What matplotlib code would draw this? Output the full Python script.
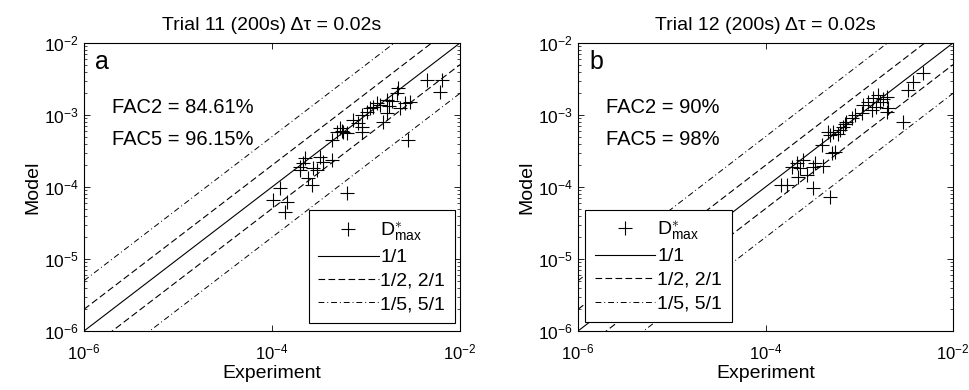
import matplotlib
matplotlib.use("Agg")
import matplotlib.pyplot as plt
import numpy as np

plt.rcParams['font.family'] = ['Liberation Sans', 'DejaVu Sans']
plt.rcParams['mathtext.fontset'] = 'custom'
plt.rcParams['mathtext.rm'] = 'Liberation Sans'
plt.rcParams['mathtext.it'] = 'Liberation Sans'
plt.rcParams['mathtext.bf'] = 'Liberation Sans:bold'

# Trial 11: experiment vs model D*max
exp_11 = [4.43e-3, 2.21e-3, 2.12e-3, 1.66e-3, 1.30e-3, 1.20e-3, 1.41e-3, 2.94e-3,
          2.60e-3, 2.30e-3, 1.66e-3, 1.53e-3, 1.02e-3, 9.0e-4, 7.33e-4, 8.28e-4,
          9.0e-4, 9.0e-4, 5.28e-4, 5.74e-4, 4.87e-4, 6.24e-4, 4.32e-4, 2.82e-3,
          2.24e-4, 2.15e-4, 1.99e-4, 3.25e-4, 3.52e-4, 4.32e-4, 2.75e-4, 2.99e-4,
          1.99e-4, 2.43e-4, 2.64e-4, 1.22e-4, 1.03e-4, 1.43e-4, 1.37e-4, 6.24e-4,
          6.38e-3, 6.12e-3, 1.90e-3, 1.10e-3, 5.5e-4, 1.75e-3]
mod_11 = [3.06e-3, 2.35e-3, 2.0e-3, 1.61e-3, 1.46e-3, 1.30e-3, 1.38e-3, 1.53e-3,
          1.46e-3, 1.24e-3, 1.06e-3, 8.1e-4, 1.11e-3, 1.0e-3, 8.5e-4, 7.7e-4,
          6.9e-4, 5.86e-4, 6.5e-4, 5.86e-4, 5.86e-4, 5.57e-4, 4.5e-4, 4.5e-4,
          2.51e-4, 2.13e-4, 1.91e-4, 2.64e-4, 2.24e-4, 2.37e-4, 1.82e-4, 1.72e-4,
          1.72e-4, 1.32e-4, 1.07e-4, 9.6e-5, 6.6e-5, 6.25e-5, 4.5e-5, 8.2e-5,
          3.06e-3, 2.1e-3, 1.55e-3, 1.25e-3, 6.0e-4, 1.35e-3]

# Trial 12
exp_12 = [3.78e-3, 3.33e-3, 1.96e-3, 1.60e-3, 1.66e-3, 1.41e-3, 1.25e-3, 1.10e-3,
          2.04e-3, 1.96e-3, 1.36e-3, 1.06e-3, 9.0e-4, 8.3e-4, 7.3e-4, 6.76e-4,
          6.24e-4, 5.28e-4, 4.68e-4, 4.87e-4, 3.97e-4, 5.08e-4, 5.51e-4, 2.95e-3,
          2.53e-4, 2.15e-4, 1.90e-4, 2.34e-4, 3.24e-4, 3.37e-4, 4.14e-4, 2.75e-4,
          2.24e-4, 1.46e-4, 1.68e-4, 3.24e-4, 4.87e-4, 4.82e-3, 1.80e-3, 1.50e-3,
          7.0e-4, 5.9e-4]
mod_12 = [2.9e-3, 2.22e-3, 1.79e-3, 1.90e-3, 1.53e-3, 1.71e-3, 1.53e-3, 1.38e-3,
          1.24e-3, 1.11e-3, 1.17e-3, 1.06e-3, 1.0e-3, 9.0e-4, 8.07e-4, 6.9e-4,
          6.2e-4, 5.86e-4, 5.86e-4, 5.27e-4, 3.83e-4, 2.94e-4, 3.09e-4, 8.07e-4,
          2.37e-4, 2.13e-4, 1.91e-4, 1.82e-4, 1.91e-4, 2.13e-4, 1.96e-4, 1.47e-4,
          1.39e-4, 1.07e-4, 1.07e-4, 9.6e-5, 7.3e-5, 3.83e-3, 1.65e-3, 1.30e-3,
          7.5e-4, 5.5e-4]

titles = ["Trial 11 (200s) \u0394\u03c4 = 0.02s", "Trial 12 (200s) \u0394\u03c4 = 0.02s"]
panel_labels = ["a", "b"]
fac2 = ["FAC2 = 84.61%", "FAC2 = 90%"]
fac5 = ["FAC5 = 96.15%", "FAC5 = 98%"]
ref_line = [1e-6, 1e-2]

fig = plt.figure(figsize=(9.69, 3.9), dpi=100)
ax_pos = [[0.0867, 0.1513, 0.388, 0.7385], [0.5965, 0.1513, 0.387, 0.7385]]
datasets = [(exp_11, mod_11), (exp_12, mod_12)]
legend_loc = [("lower right", (0.987, 0.028)), ("lower left", (0.019, 0.031))]

for i in range(2):
    ax = fig.add_axes(ax_pos[i])
    ex, mo = datasets[i]
    xl = np.array(ref_line)
    ax.plot(ex, mo, '+', color='black', markersize=10, markeredgewidth=0.8,
            label=r'$\mathrm{D}^{\ast}_{\mathrm{max}}$')
    ax.plot(xl, xl, '-', color='black', lw=0.8, label='1/1')
    ax.plot(xl, xl * 2, '--', color='black', lw=0.8, dashes=(6, 3), label='1/2, 2/1')
    ax.plot(xl, xl / 2, '--', color='black', lw=0.8, dashes=(6, 3))
    ax.plot(xl, xl * 5, '-.', color='black', lw=0.7, dashes=(6, 3, 1, 3), label='1/5, 5/1')
    ax.plot(xl, xl / 5, '-.', color='black', lw=0.7, dashes=(6, 3, 1, 3))

    ax.set_xscale('log')
    ax.set_yscale('log')
    ax.set_xlim(1e-6, 1e-2)
    ax.set_ylim(1e-6, 1e-2)
    ax.set_xticks([1e-6, 1e-4, 1e-2])
    ax.xaxis.set_minor_locator(matplotlib.ticker.NullLocator())
    ax.set_yticks([1e-6, 1e-5, 1e-4, 1e-3, 1e-2])
    ax.tick_params(which='both', direction='in', top=True, right=True, labelsize=12.5)
    ax.tick_params(which='major', length=4, width=0.6)
    ax.tick_params(which='minor', length=2, width=0.5)
    ax.tick_params(axis='x', pad=8, labelsize=12)
    for s in ax.spines.values():
        s.set_linewidth(0.8)

    ax.set_title(titles[i], fontsize=14, pad=9)
    ax.set_xlabel("Experiment", fontsize=14, labelpad=2)
    ax.set_ylabel("Model", fontsize=14, labelpad=2)
    ax.text(0.03, 0.975, panel_labels[i], transform=ax.transAxes, fontsize=18,
            va='top', ha='left')
    ax.text(0.075, 0.775, fac2[i], transform=ax.transAxes, fontsize=14.5, va='center')
    ax.text(0.075, 0.665, fac5[i], transform=ax.transAxes, fontsize=14.5, va='center')

    loc, anchor = legend_loc[i]
    leg = ax.legend(loc=loc, bbox_to_anchor=anchor, fontsize=14, handlelength=3.1,
                    fancybox=False, edgecolor='black', framealpha=1,
                    borderpad=0.5, labelspacing=0.3, handletextpad=0.1,
                    borderaxespad=0)
    leg.get_frame().set_linewidth(0.8)

fig.savefig("out.png", dpi=100)
